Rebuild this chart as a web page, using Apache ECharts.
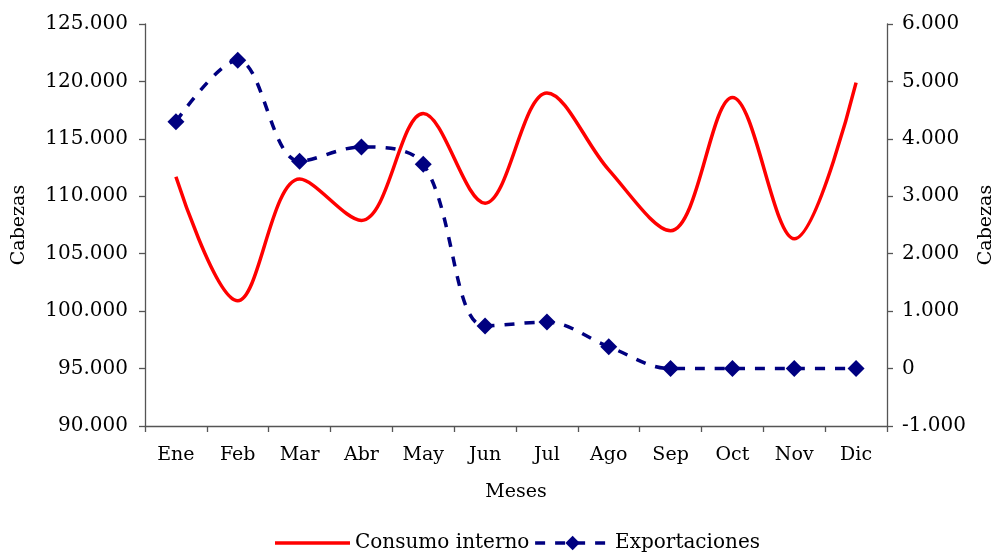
<!DOCTYPE html>
<html>
<head>
<meta charset="utf-8">
<script src="https://cdn.jsdelivr.net/npm/echarts@6/dist/echarts.min.js"></script>
<style>
html, body { margin: 0; padding: 0; background: #fff; }
#chart { width: 997px; height: 552px; }
</style>
</head>
<body>
<div id="chart"></div>
<script>
var meses = ['Ene', 'Feb', 'Mar', 'Abr', 'May', 'Jun', 'Jul', 'Ago', 'Sep', 'Oct', 'Nov', 'Dic'];
var consumoInterno = [111700, 100900, 111500, 107900, 117200, 109400, 119000, 112300, 107000, 118600, 106300, 119900];
var exportaciones = [4300, 5370, 3610, 3860, 3560, 740, 810, 380, 0, 0, 0, 0];

var fuente = 'DejaVu Serif';

// formato con punto de miles
function miles(v){
	var neg = v < 0;
	var s = String(Math.abs(Math.round(v)));
	s = s.replace(/\B(?=(\d{3})+(?!\d))/g, '.');
	return (neg ? '-' : '') + s;
}

var chart = {
	init: function(){
		var myChart = echarts.init(document.getElementById('chart'));
		myChart.setOption(chart.getOption());
	},
	getOption: function(){
		var txt = { fontFamily: fuente, fontSize: 19, color: '#000' };
		var axisLine = { show: true, onZero: false, lineStyle: { color: '#555', width: 1.3 } };
		var axisTick = { show: true, length: 6, lineStyle: { color: '#555', width: 1.3 } };
		return {
			animation: false,
			backgroundColor: '#fff',
			textStyle: { fontFamily: fuente },
			grid: { left: 145, right: 110, top: 24, bottom: 126, containLabel: false, outerBoundsMode: 'none' },
			legend: {
				top: 528,
				left: 270,
				itemWidth: 75,
				itemHeight: 18,
				itemGap: 4,
				textStyle: { fontFamily: fuente, fontSize: 20, color: '#000' },
				data: [
					{ name: 'Consumo interno', icon: 'path://M0,0H75V3.5H0Z' },
					{ name: 'Exportaciones', lineStyle: { width: 3.5 } }
				]
			},
			xAxis: {
				type: 'category',
				data: meses,
				boundaryGap: true,
				name: 'Meses',
				nameLocation: 'middle',
				nameGap: 57,
				nameTextStyle: txt,
				axisLine: axisLine,
				axisTick: axisTick,
				axisLabel: { fontFamily: fuente, fontSize: 19, color: '#000', margin: 20 },
				splitLine: { show: false }
			},
			yAxis: [
				{
					type: 'value',
					min: 90000,
					max: 125000,
					interval: 5000,
					name: 'Cabezas',
					nameLocation: 'middle',
					nameRotate: 90,
					nameGap: 116,
					nameTextStyle: txt,
					axisLine: axisLine,
					axisTick: axisTick,
					axisLabel: { fontFamily: fuente, fontSize: 20, color: '#000', margin: 17, formatter: miles },
					splitLine: { show: false }
				},
				{
					type: 'value',
					position: 'right',
					min: -1000,
					max: 6000,
					interval: 1000,
					name: 'Cabezas',
					nameLocation: 'middle',
					nameRotate: 90,
					nameGap: 88,
					nameTextStyle: txt,
					axisLine: axisLine,
					axisTick: axisTick,
					axisLabel: { fontFamily: fuente, fontSize: 20, color: '#000', margin: 15, formatter: miles },
					splitLine: { show: false }
				}
			],
			series: [
				{
					name: 'Consumo interno',
					type: 'line',
					yAxisIndex: 0,
					data: consumoInterno,
					smooth: 0.35,
					symbol: 'none',
					itemStyle: { color: '#ff0000' },
					lineStyle: { color: '#ff0000', width: 3.5 }
				},
				{
					name: 'Exportaciones',
					type: 'line',
					yAxisIndex: 1,
					data: exportaciones,
					smooth: 0.35,
					symbol: 'diamond',
					symbolSize: 17,
					itemStyle: { color: '#000080' },
					lineStyle: { color: '#000080', width: 3.5, type: [10, 10] }
				}
			]
		};
	}
};

chart.init();
</script>
</body>
</html>
